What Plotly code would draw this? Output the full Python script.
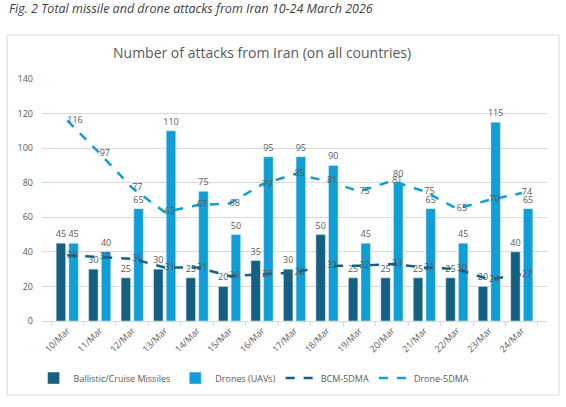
import plotly.graph_objects as go

days = ["10/Mar", "11/Mar", "12/Mar", "13/Mar", "14/Mar", "15/Mar", "16/Mar", "17/Mar",
        "18/Mar", "19/Mar", "20/Mar", "21/Mar", "22/Mar", "23/Mar", "24/Mar"]
missiles = [45, 30, 25, 30, 25, 20, 35, 30, 50, 25, 25, 25, 25, 20, 40]
drones = [45, 40, 65, 110, 75, 50, 95, 95, 90, 45, 80, 65, 45, 115, 65]
bcm_5dma = [38, 37, 36, 31, 31, 26, 27, 28, 32, 32, 33, 31, 30, 24, 27]
drone_5dma = [116, 97, 77, 63, 67, 68, 79, 85, 81, 75, 81, 75, 65, 70, 74]

dark = "#156082"
light = "#0F9ED5"
txt = "#595959"
font = "Open Sans"

fig = go.Figure()
fig.add_trace(go.Bar(x=days, y=missiles, name="Ballistic/Cruise Missiles",
                     marker_color=dark, text=missiles, textposition="outside",
                     constraintext="none",
                     textfont=dict(size=9, color=txt), cliponaxis=False))
fig.add_trace(go.Bar(x=days, y=drones, name="Drones (UAVs)",
                     marker_color=light, text=drones, textposition="outside",
                     constraintext="none",
                     textfont=dict(size=9, color=txt), cliponaxis=False))
fig.add_trace(go.Scatter(x=days, y=bcm_5dma, name="BCM-5DMA", mode="lines+text",
                         line=dict(color=dark, width=2.5, dash="dash"),
                         text=bcm_5dma, textposition="middle right",
                         textfont=dict(size=9, color=txt), cliponaxis=False))
fig.add_trace(go.Scatter(x=days, y=drone_5dma, name="Drone-5DMA", mode="lines+text",
                         line=dict(color=light, width=2.5, dash="dash"),
                         text=drone_5dma, textposition="middle right",
                         textfont=dict(size=9, color=txt), cliponaxis=False))

fig.update_layout(
    width=566, height=407,
    margin=dict(l=42, r=19, t=79, b=86),
    paper_bgcolor="white", plot_bgcolor="white",
    font=dict(family=font, color=txt, size=9),
    barmode="group", bargap=0.22, bargroupgap=0.25,
    title=dict(text="Number of attacks from Iran (on all countries)",
               x=0.463, xanchor="center", y=0.87, yanchor="middle",
               font=dict(size=14, color=txt, family=font)),
    legend=dict(orientation="h", x=0.42, xanchor="center", y=-0.236, yanchor="middle",
                font=dict(size=9, color=txt), itemwidth=30, tracegroupgap=0),
    showlegend=True,
)
fig.update_xaxes(showgrid=False, showline=True, linecolor="#d9d9d9", ticks="outside",
                 tickson="boundaries", ticklen=4, tickcolor="#d9d9d9", tickangle=-45,
                 tickfont=dict(size=9, color=txt))
fig.update_yaxes(range=[0, 140], dtick=20, showgrid=True, gridcolor="#d9d9d9",
                 zeroline=False, showline=False, tickfont=dict(size=9, color=txt),
                 ticklabelstandoff=8)

# chart frame and caption
fig.add_shape(type="rect", xref="paper", yref="paper", x0=-0.069, x1=1.024,
              y0=-0.306, y1=1.182, line=dict(color="#d9d9d9", width=1))
fig.add_annotation(text="<i>Fig. 2 Total missile and drone attacks from Iran 10-24 March 2026</i>",
                   xref="paper", yref="paper", x=-0.07, y=1.293, xanchor="left",
                   yanchor="middle", showarrow=False,
                   font=dict(size=12.5, color="#404040", family=font))

fig.write_html("out.html", config={"displayModeBar": False},
               post_script="document.body.style.margin='0';")
